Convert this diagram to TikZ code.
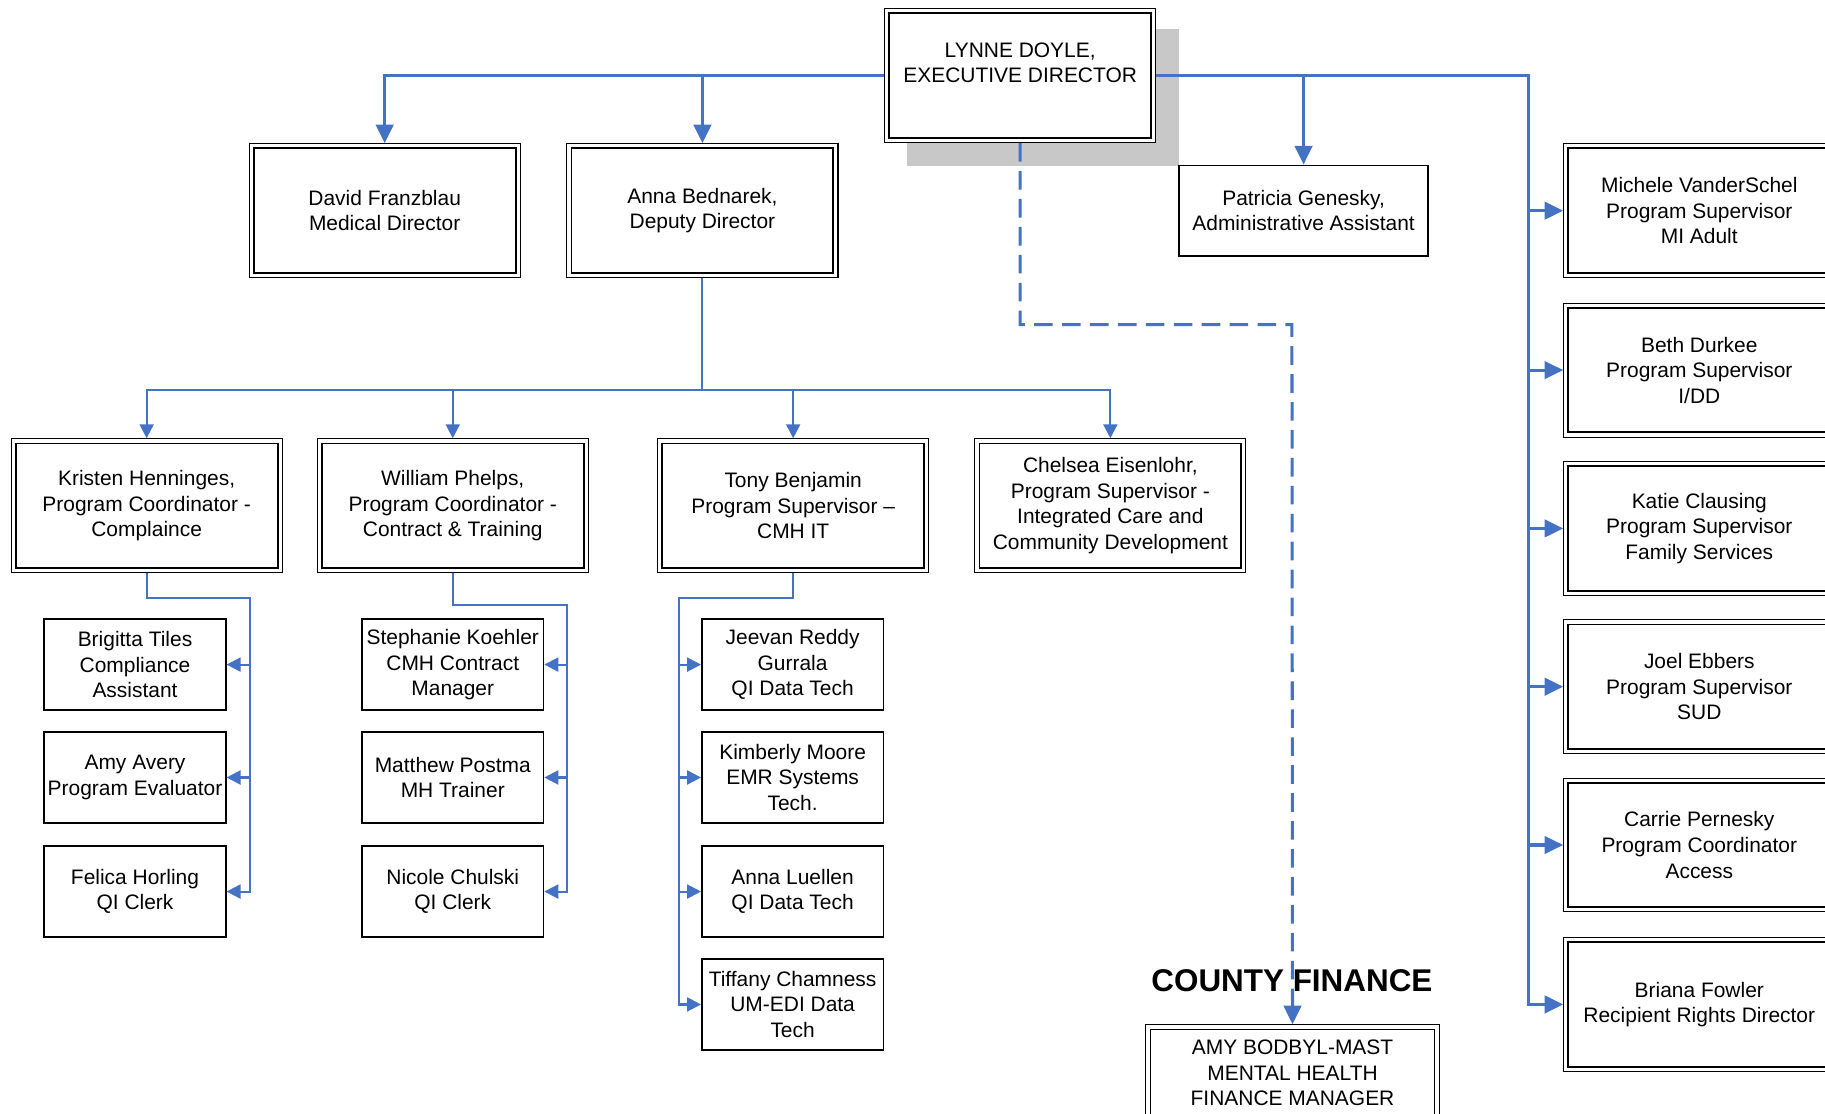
\documentclass[tikz,border=0pt]{standalone}
\usepackage{fontspec}
\setmainfont{Liberation Sans}
\usetikzlibrary{arrows.meta}
\definecolor{linkblue}{RGB}{68,114,196}
\definecolor{shadowgray}{RGB}{200,200,200}

\begin{document}
\begin{tikzpicture}
  [x=1pt,y=-1pt,
   every node/.style={align=center,inner sep=0pt,font=\fontsize{18}{22}\selectfont},
   boss/.style={draw,fill=white,line width=0.9pt,minimum width=233pt,minimum height=115pt,
     path picture={\draw[line width=1.6pt]
       ([shift={(4pt,-4pt)}]path picture bounding box.north west) rectangle
       ([shift={(-4pt,4pt)}]path picture bounding box.south east);}},
   staff/.style={draw,fill=white,line width=1.3pt,minimum width=156pt,minimum height=78pt},
   mainline/.style={linkblue,line width=2.6pt,-{Triangle[length=16pt,width=15pt]}},
   subline/.style={linkblue,line width=1.8pt,-{Triangle[length=12pt,width=12pt]}}]
  \useasboundingbox (0,0) rectangle (1568,957);
  \fill[shadowgray] (779,25) rectangle (1013,143);
  % top level
  \node[boss] (lynne) at (876.5,65) {LYNNE DOYLE,\\EXECUTIVE DIRECTOR\\\mbox{}};
  \node[boss] (david) at (330.5,181) {David Franzblau\\Medical Director};
  \node[boss] (anna) at (603.5,181) {Anna Bednarek,\\Deputy Director};
  \node[staff,minimum width=214pt] (patricia) at (1120,181) {Patricia Genesky,\\Administrative Assistant};
  % coordinators
  \node[boss] (kristen) at (126,434.5) {Kristen Henninges,\\Program Coordinator -\\Complaince};
  \node[boss] (william) at (389,434.5) {William Phelps,\\Program Coordinator -\\Contract \& Training};
  \node[boss] (tony) at (681.5,434.5) {Tony Benjamin\\Program Supervisor --\\CMH IT};
  \node[boss] (chelsea) at (954,434.5) {Chelsea Eisenlohr,\\Program Supervisor -\\Integrated Care and\\Community Development};
  % staff
  \node[staff] (brigitta) at (116,571) {Brigitta Tiles\\Compliance\\Assistant};
  \node[staff] (amy) at (116,668) {Amy Avery\\Program Evaluator};
  \node[staff] (felica) at (116,766) {Felica Horling\\QI Clerk};
  \node[staff] (stephanie) at (389,571) {Stephanie Koehler\\CMH Contract\\Manager};
  \node[staff] (matthew) at (389,668) {Matthew Postma\\MH Trainer};
  \node[staff] (nicole) at (389,766) {Nicole Chulski\\QI Clerk};
  \node[staff] (jeevan) at (681,571) {Jeevan Reddy\\Gurrala\\QI Data Tech};
  \node[staff] (kimberly) at (681,668) {Kimberly Moore\\EMR Systems\\Tech.};
  \node[staff] (luellen) at (681,766) {Anna Luellen\\QI Data Tech};
  \node[staff] (tiffany) at (681,863) {Tiffany Chamness\\UM-EDI Data\\Tech};
  % supervisors on the right
  \node[boss] (michele) at (1460,181) {Michele VanderSchel\\Program Supervisor\\MI Adult};
  \node[boss] (beth) at (1460,318) {Beth Durkee\\Program Supervisor\\I/DD};
  \node[boss] (katie) at (1460,454) {Katie Clausing\\Program Supervisor\\Family Services};
  \node[boss] (joel) at (1460,590) {Joel Ebbers\\Program Supervisor\\SUD};
  \node[boss] (carrie) at (1460,726) {Carrie Pernesky\\Program Coordinator\\Access};
  \node[boss] (briana) at (1460,863) {Briana Fowler\\Recipient Rights Director};
  % county finance
  \node[font=\bfseries\fontsize{27}{30}\selectfont] (county) at (1110,843) {COUNTY FINANCE};
  \node[boss,minimum width=252pt,minimum height=83pt] (finance) at (1110.5,922) {AMY BODBYL-MAST\\MENTAL HEALTH\\FINANCE MANAGER};
  \coordinate (spine) at (1313,0);
  \coordinate (bus) at (0,335);
  \coordinate (krail) at (215,514);
  \coordinate (wrail) at (487,520);
  \coordinate (trail) at (583,514);
  \coordinate (dashbend) at (1110,279);
  % connectors
  \draw[mainline] (lynne.west) -| (david.north);
  \draw[mainline] (anna.north |- lynne.west) -- (anna.north);
  \draw[mainline] (patricia.north |- lynne.east) -- (patricia.north);
  \draw[mainline] (lynne.east) -| (spine |- briana.west) -- (briana.west);
  \foreach \n in {michele,beth,katie,joel,carrie}
    \draw[mainline] (spine |- \n.west) -- (\n.west);
  \foreach \n in {kristen,william,tony,chelsea}
    \draw[subline] (anna.south) |- (\n.north |- bus) -- (\n.north);
  \foreach \n in {brigitta,amy,felica}
    \draw[subline] (kristen.south) |- (krail) |- (\n.east);
  \foreach \n in {stephanie,matthew,nicole}
    \draw[subline] (william.south) |- (wrail) |- (\n.east);
  \foreach \n in {jeevan,kimberly,luellen,tiffany}
    \draw[subline] (tony.south) |- (trail) |- (\n.west);
  \draw[mainline,dash pattern=on 16pt off 8pt] (lynne.south) |- (dashbend) -- (finance.north);
\end{tikzpicture}
\end{document}
